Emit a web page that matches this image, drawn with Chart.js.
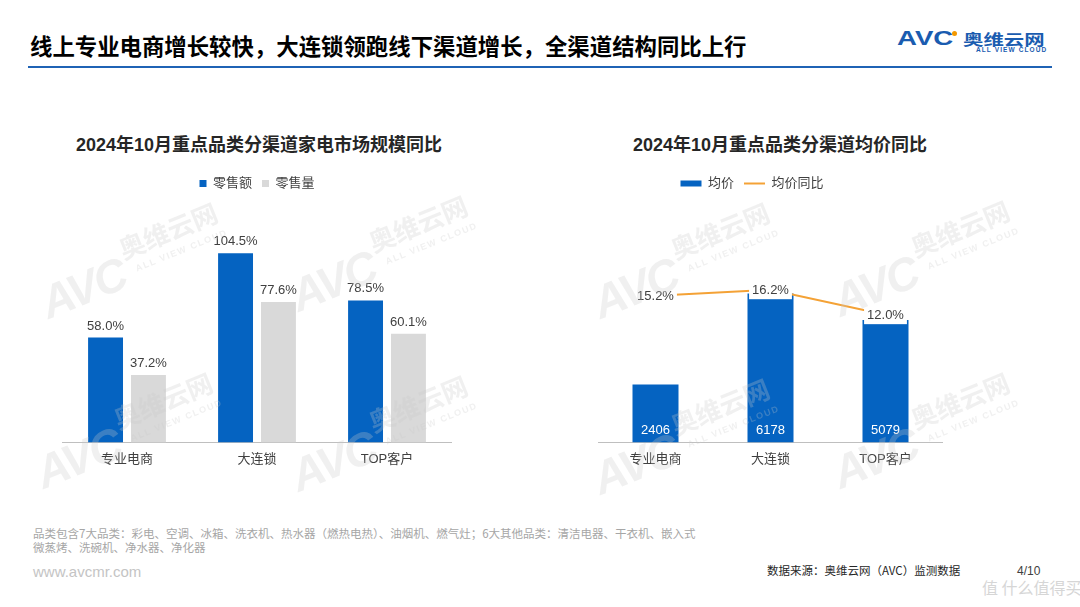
<!DOCTYPE html>
<html><head><meta charset="utf-8">
<script src="https://cdn.jsdelivr.net/npm/chart.js@4.4.1/dist/chart.umd.min.js"></script>
<style>
html,body{margin:0;padding:0;background:#fff;}
body{width:1080px;height:607px;position:relative;overflow:hidden;font-family:"Liberation Sans","Noto Sans CJK SC",sans-serif;}
.abs{position:absolute;white-space:nowrap;line-height:1;}
#title{left:30px;top:34px;font-size:22.4px;font-weight:700;color:#000;font-family:"Noto Sans CJK SC",sans-serif;}
#rule{position:absolute;left:28px;top:65.5px;width:1024px;height:2px;background:#1f63b5;}
.ctitle{font-size:18px;font-weight:700;color:#262626;font-family:"Liberation Sans","Noto Sans CJK SC",sans-serif;text-align:center;width:600px;}
.cv{position:absolute;}
.wm{position:absolute;width:220px;height:90px;transform:rotate(-22deg);color:rgba(200,200,200,0.28);pointer-events:none;z-index:5;white-space:nowrap;}
.wm .a{position:absolute;left:0;top:30px;font:italic 900 46px "Liberation Sans",sans-serif;letter-spacing:-2px;}
.wm .c{position:absolute;left:92px;top:22px;font:700 26px "Noto Sans CJK SC",sans-serif;line-height:1;}
.wm .e{position:absolute;left:100px;top:54px;font:700 9px "Liberation Sans",sans-serif;letter-spacing:1.5px;}
</style></head>
<body>
<div id="title" class="abs">线上专业电商增长较快，大连锁领跑线下渠道增长，全渠道结构同比上行</div>
<div id="rule"></div>
<div class="abs" style="left:897px;top:27px;font:900 20px 'Liberation Sans',sans-serif;color:#1a5cb0;transform:scaleX(1.38);transform-origin:left;">AVC</div>
<div style="position:absolute;left:952px;top:31px;width:5px;height:5px;border-radius:50%;background:#f39800;"></div>
<div class="abs" style="left:963px;top:28px;font:700 15px 'Noto Sans CJK SC',sans-serif;color:#1a5cb0;transform:scaleX(1.36);transform-origin:left;">奥维云网</div>
<div class="abs" style="left:976px;top:46px;font:700 6.5px 'Liberation Sans',sans-serif;color:#1a5cb0;letter-spacing:1.1px;">ALL VIEW CLOUD</div>

<div class="abs ctitle" style="left:-41px;top:136px;">2024年10月重点品类分渠道家电市场规模同比</div>
<div class="abs ctitle" style="left:480px;top:136px;">2024年10月重点品类分渠道均价同比</div>

<div class="cv" style="left:62px;top:167px;"><canvas id="c1" width="390" height="309"></canvas></div>
<div class="cv" style="left:561px;top:167px;"><canvas id="c2" width="382" height="309"></canvas></div>

<div class="abs" style="left:33px;top:528px;font-size:11.5px;color:#a6a6a6;font-family:'Noto Sans CJK SC',sans-serif;">品类包含7大品类：彩电、空调、冰箱、洗衣机、热水器（燃热电热）、油烟机、燃气灶；6大其他品类：清洁电器、干衣机、嵌入式</div>
<div class="abs" style="left:33px;top:542px;font-size:11.5px;color:#a6a6a6;font-family:'Noto Sans CJK SC',sans-serif;">微蒸烤、洗碗机、净水器、净化器</div>
<div class="abs" style="left:33px;top:564px;font-size:15px;color:#c4c4c4;">www.avcmr.com</div>
<div class="abs" style="left:767px;top:565px;font-size:11.5px;color:#262626;font-family:'Noto Sans CJK SC',sans-serif;">数据来源：奥维云网（AVC）监测数据</div>
<div class="abs" style="left:1017px;top:565px;font-size:12px;color:#404040;">4/10</div>
<div class="abs" style="left:982px;top:579px;font-size:16px;color:#d6d6d6;font-family:'Noto Sans CJK SC',sans-serif;">值 什么值得买</div>

<script>
// ---- data ----
const categories = ['专业电商', '大连锁', 'TOP客户'];
const legendLeft = ['零售额', '零售量'];
const retailAmountYoY = [58.0, 104.5, 78.5];
const retailVolumeYoY = [37.2, 77.6, 60.1];
const legendRight = ['均价', '均价同比'];
const avgPrice = [2406, 6178, 5079];
const avgPriceYoY = [15.2, 16.2, 12.0];

const BLUE = '#0563c1', GREY = '#d9d9d9', ORANGE = '#f4a236', TXT = '#404040';
const FONT = '"Liberation Sans","Noto Sans CJK SC",sans-serif';
Chart.defaults.font.family = FONT;
Chart.defaults.color = TXT;

const labelCfg = {
  c1: [
    {pos: 'top', offset: 12, color: TXT, fmt: v => v.toFixed(1) + '%'},
    {pos: 'top', offset: 12, color: TXT, fmt: v => v.toFixed(1) + '%'}
  ],
  c2: [
    {pos: 'base', offset: 12.5, color: '#ffffff', fmt: v => String(v)},
    {pos: 'point', offset: 0, color: TXT, bg: '#ffffff', fmt: v => v.toFixed(1) + '%'}
  ]
};

const valueLabels = {
  id: 'valueLabels',
  afterDatasetsDraw(chart) {
    const cfgs = labelCfg[chart.canvas.id];
    const ctx = chart.ctx;
    chart.data.datasets.forEach((ds, i) => {
      const cfg = cfgs[i];
      const meta = chart.getDatasetMeta(i);
      meta.data.forEach((el, j) => {
        const text = cfg.fmt(ds.data[j]);
        ctx.save();
        ctx.font = '13px ' + FONT;
        ctx.textAlign = 'center';
        ctx.textBaseline = 'middle';
        let y = el.y;
        if (cfg.pos === 'top') y = el.y - cfg.offset;
        else if (cfg.pos === 'base') y = el.base - cfg.offset;
        if (cfg.bg) {
          const w = ctx.measureText(text).width;
          ctx.fillStyle = cfg.bg;
          ctx.fillRect(el.x - w / 2 - 3, y - 9.5, w + 6, 19);
        }
        ctx.fillStyle = cfg.color;
        ctx.fillText(text, el.x, y + 0.5);
        ctx.restore();
      });
    });
  }
};

const xAxis = {
  grid: {display: false, drawTicks: false},
  border: {display: true, color: '#bfbfbf', width: 1},
  ticks: {padding: 9, color: TXT, font: {size: 13}}
};

new Chart(document.getElementById('c1'), {
  type: 'bar',
  data: {
    labels: categories,
    datasets: [
      {label: legendLeft[0], data: retailAmountYoY, backgroundColor: BLUE, borderColor: BLUE, borderWidth: 0,
       categoryPercentage: 0.66, barPercentage: 0.814},
      {label: legendLeft[1], data: retailVolumeYoY, backgroundColor: GREY, borderColor: GREY, borderWidth: 0,
       categoryPercentage: 0.66, barPercentage: 0.814}
    ]
  },
  options: {
    responsive: false, maintainAspectRatio: false, animation: false,
    layout: {padding: 0},
    plugins: {
      legend: {display: true, position: 'top',
        labels: {boxWidth: 7, boxHeight: 7, padding: 10, color: TXT, font: {size: 13}}},
      tooltip: {enabled: false}
    },
    scales: {
      x: xAxis,
      y: {display: false, min: 0, max: 134}
    }
  },
  plugins: [valueLabels]
});

new Chart(document.getElementById('c2'), {
  type: 'bar',
  data: {
    labels: categories,
    datasets: [
      {type: 'bar', label: legendRight[0], data: avgPrice, backgroundColor: BLUE, borderColor: BLUE, borderWidth: 0,
       pointStyle: 'rect', categoryPercentage: 0.4, barPercentage: 1, yAxisID: 'y', order: 2},
      {type: 'line', label: legendRight[1], data: avgPriceYoY, borderColor: ORANGE, backgroundColor: ORANGE,
       borderWidth: 2, pointRadius: 0, pointStyle: 'line', tension: 0, yAxisID: 'y1', order: 1}
    ]
  },
  options: {
    responsive: false, maintainAspectRatio: false, animation: false,
    layout: {padding: 0},
    plugins: {
      legend: {display: true, position: 'top',
        labels: {usePointStyle: true, pointStyleWidth: 21, boxHeight: 6, padding: 10, color: TXT, font: {size: 13},
                 sort: (a, b) => a.datasetIndex - b.datasetIndex}},
      tooltip: {enabled: false}
    },
    scales: {
      x: xAxis,
      y: {display: true, position: 'left', min: 0, max: 10060,
          grid: {display: false}, border: {display: false}, ticks: {display: false},
          afterFit(scale) { scale.width = 37; }},
      y1: {display: false, position: 'right', min: -9.5, max: 31.3}
    }
  },
  plugins: [valueLabels]
});

// ---- watermark overlay ----
const wmSpots = [[130,252],[380,245],[682,252],[922,250],[125,422],[380,425],[682,428],[922,422]];
wmSpots.forEach(([cx, cy]) => {
  const d = document.createElement('div');
  d.className = 'wm';
  d.style.left = (cx - 100) + 'px';
  d.style.top = (cy - 45) + 'px';
  d.innerHTML = '<span class="a">AVC</span><span class="c">奥维云网</span><span class="e">ALL VIEW CLOUD</span>';
  document.body.appendChild(d);
});
</script>
</body></html>
